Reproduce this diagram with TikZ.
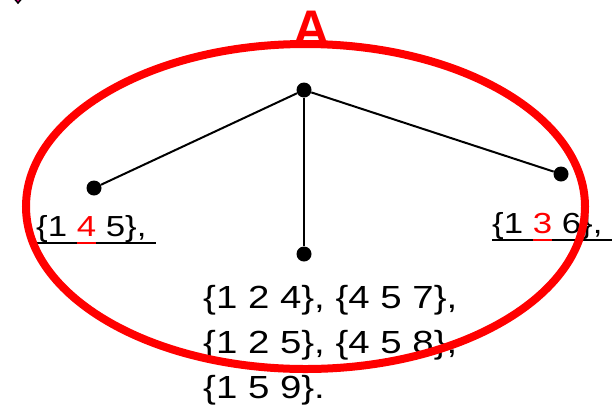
\documentclass[tikz,border=0pt]{standalone}
\usepackage{fontspec}
\setmainfont{Liberation Sans}[FakeStretch=1.2]
\newfontfamily\titlefont{Liberation Sans}
\usepackage{xcolor}
\usetikzlibrary{positioning}

% underline a piece of text in the current colour
\newcommand{\undl}[1]{\leavevmode\setbox0\hbox{#1}\rlap{\rule[-8pt]{\wd0}{2pt}}\box0}

\tikzset{
  dot/.style={circle, fill=black, inner sep=0pt, minimum size=15pt},
  link/.style={line width=2pt},
  setlabel/.style={anchor=base west, inner sep=0pt, font=\fontsize{29}{35}\selectfont},
  setlist/.style={anchor=base west, inner sep=0pt, font=\fontsize{32}{45}\selectfont}
}

\begin{document}
\begin{tikzpicture}[x=1pt, y=-1pt]
  \useasboundingbox (0,0) rectangle (612,405);
  \clip (0,0) rectangle (612,405);

  % Bullet cut off at the top
  \filldraw[fill=magenta, draw=black, line width=1.5pt] (12,-4) -- (18,3) -- (24,-4) -- cycle;

  % Title
  \node[text=red, font={\fontsize{50}{50}\titlefont\bfseries}, anchor=base, inner sep=0pt] (title) at (312,45) {A};

  % Tree
  \node[dot] (root) at (304,90) {};
  \node[dot] (left) at (94,188) {};
  \node[dot] (mid) at (304,254) {};
  \node[dot] (right) at (561,174) {};
  \draw[link] (root) -- (left);
  \draw[link] (root) -- (mid);
  \draw[link] (root) -- (right);

  % Leaf labels
  \node[setlabel] (lblleft) at (36,236) {\undl{\{1 }\textcolor{red}{\undl{4}}\undl{ 5\}, }};
  \node[setlabel] (lblright) at (492,233) {\undl{\{1 }\textcolor{red}{\undl{3}}\undl{ 6\}, }};
  \node[setlist] (list1) at (203,308) {\{1 2 4\}, \{4 5 7\},};
  \node[setlist] (list2) at (203,353) {\{1 2 5\}, \{4 5 8\},};
  \node[setlist] (list3) at (203,398) {\{1 5 9\}.};

  % Outline
  \draw[red, line width=8pt] (305.5,206.5) ellipse [x radius=279.5, y radius=162.5];
\end{tikzpicture}
\end{document}
